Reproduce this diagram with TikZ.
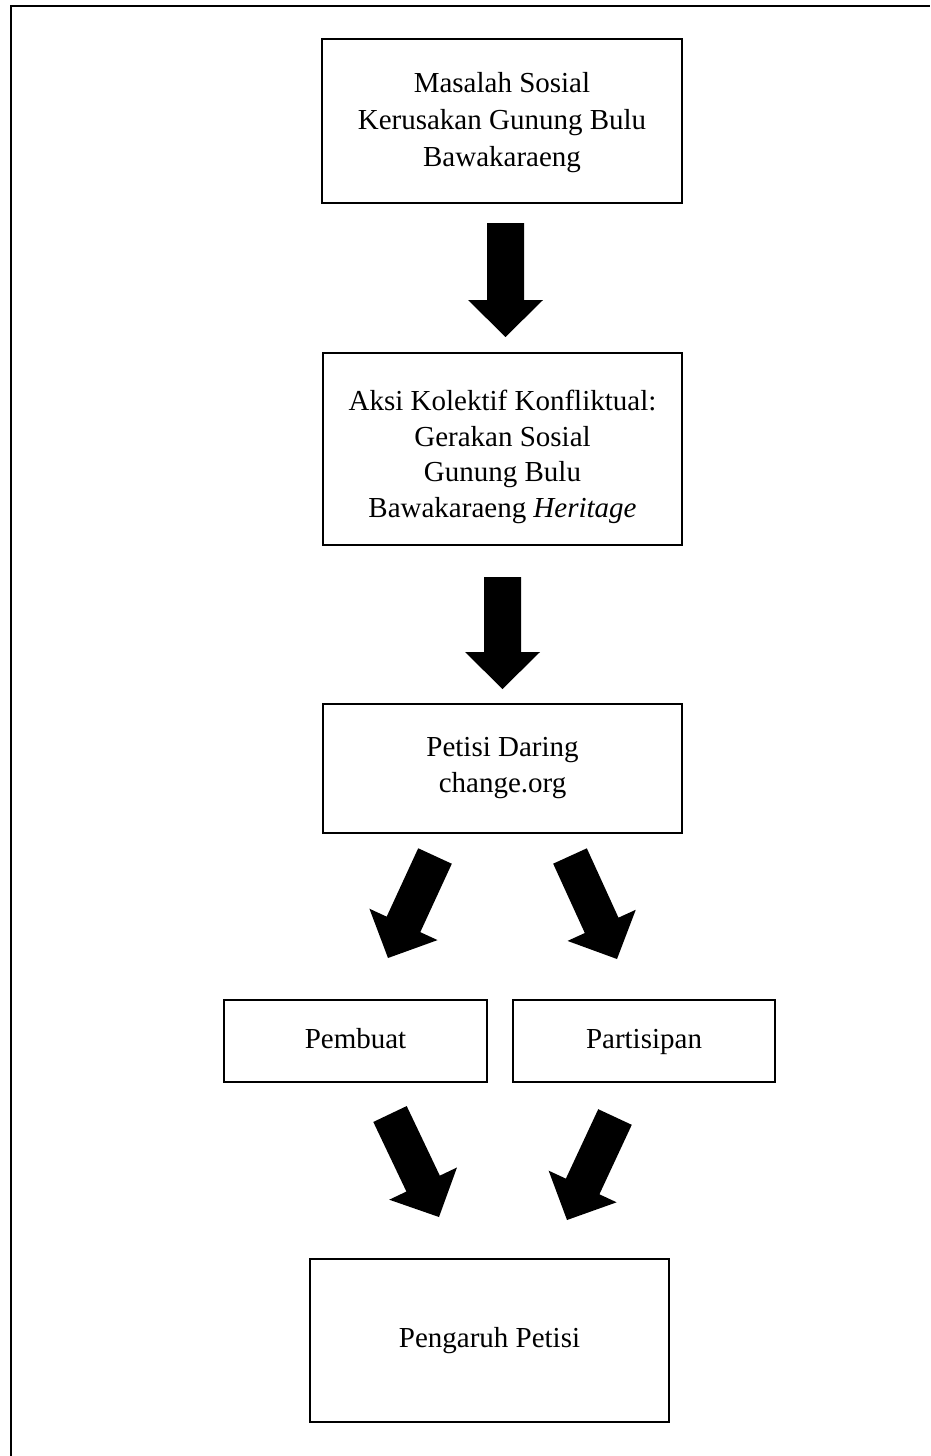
\documentclass[tikz,border=0pt]{standalone}
\usepackage{fontspec}
\setmainfont{Liberation Serif}
\usetikzlibrary{calc}
\tikzset{
  box/.style={draw, line width=2pt, align=center, inner sep=0pt,
    font=\fontsize{29}{37}\selectfont},
  onebox/.style={box, text height=20pt, text depth=6pt},
  frameline/.style={line width=2pt},
}
\newcommand\blockarr[2]{%
  \path ($(#2)!37pt!(#1)$) coordinate (bah);
  \fill ($(#1)!18.5pt!90:(#2)$) -- ($(bah)!18.5pt!90:(#2)$) --
        ($(bah)!37.5pt!90:(#2)$) -- (#2) --
        ($(bah)!37.5pt!-90:(#2)$) -- ($(bah)!18.5pt!-90:(#2)$) --
        ($(#1)!18.5pt!-90:(#2)$) -- cycle;
}
\begin{document}
\begin{tikzpicture}[x=1pt,y=-1pt]
\useasboundingbox (0,0) rectangle (930,1456);
% outer frame (top and left only visible)
\coordinate (fbl) at (10.5,1456);
\coordinate (ftl) at (10.5,5.5);
\coordinate (ftr) at (930,5.5);
\draw[frameline] (fbl) -- (ftl) -- (ftr);

% boxes
\node[box, minimum width=360pt, minimum height=164pt] (m) at (502,121)
  {\rule{0pt}{24pt}Masalah Sosial\\Kerusakan Gunung Bulu\\Bawakaraeng};
\node[box, minimum width=359pt, minimum height=192pt,
  font=\fontsize{29}{35.5}\selectfont] (a) at (502.5,449)
  {\rule{0pt}{36pt}Aksi Kolektif Konfliktual:\\Gerakan Sosial\\Gunung Bulu\\Bawakaraeng \textit{Heritage}};
\node[box, minimum width=359pt, minimum height=129pt,
  font=\fontsize{29}{36}\selectfont] (p) at (502.5,768.5)
  {Petisi Daring\\change.org};
\node[onebox, minimum width=263pt, minimum height=82pt] (pb) at (355.5,1041) {Pembuat};
\node[onebox, minimum width=262pt, minimum height=82pt] (pt) at (644,1041) {Partisipan};
\node[onebox, minimum width=359pt, minimum height=163pt] (pg) at (489.5,1340.5) {Pengaruh Petisi};

% arrow end points
\coordinate (a1s) at (505.5,223);  \coordinate (a1e) at (505.5,337);
\coordinate (a2s) at (502.5,577);  \coordinate (a2e) at (502.5,689);
\coordinate (a3s) at (435,856);    \coordinate (a3e) at (388,958);
\coordinate (a4s) at (570,856);    \coordinate (a4e) at (617,959);
\coordinate (a5s) at (390,1114);   \coordinate (a5e) at (439,1217);
\coordinate (a6s) at (615,1117);   \coordinate (a6e) at (567,1220);

\blockarr{a1s}{a1e}
\blockarr{a2s}{a2e}
\blockarr{a3s}{a3e}
\blockarr{a4s}{a4e}
\blockarr{a5s}{a5e}
\blockarr{a6s}{a6e}
\end{tikzpicture}
\end{document}
